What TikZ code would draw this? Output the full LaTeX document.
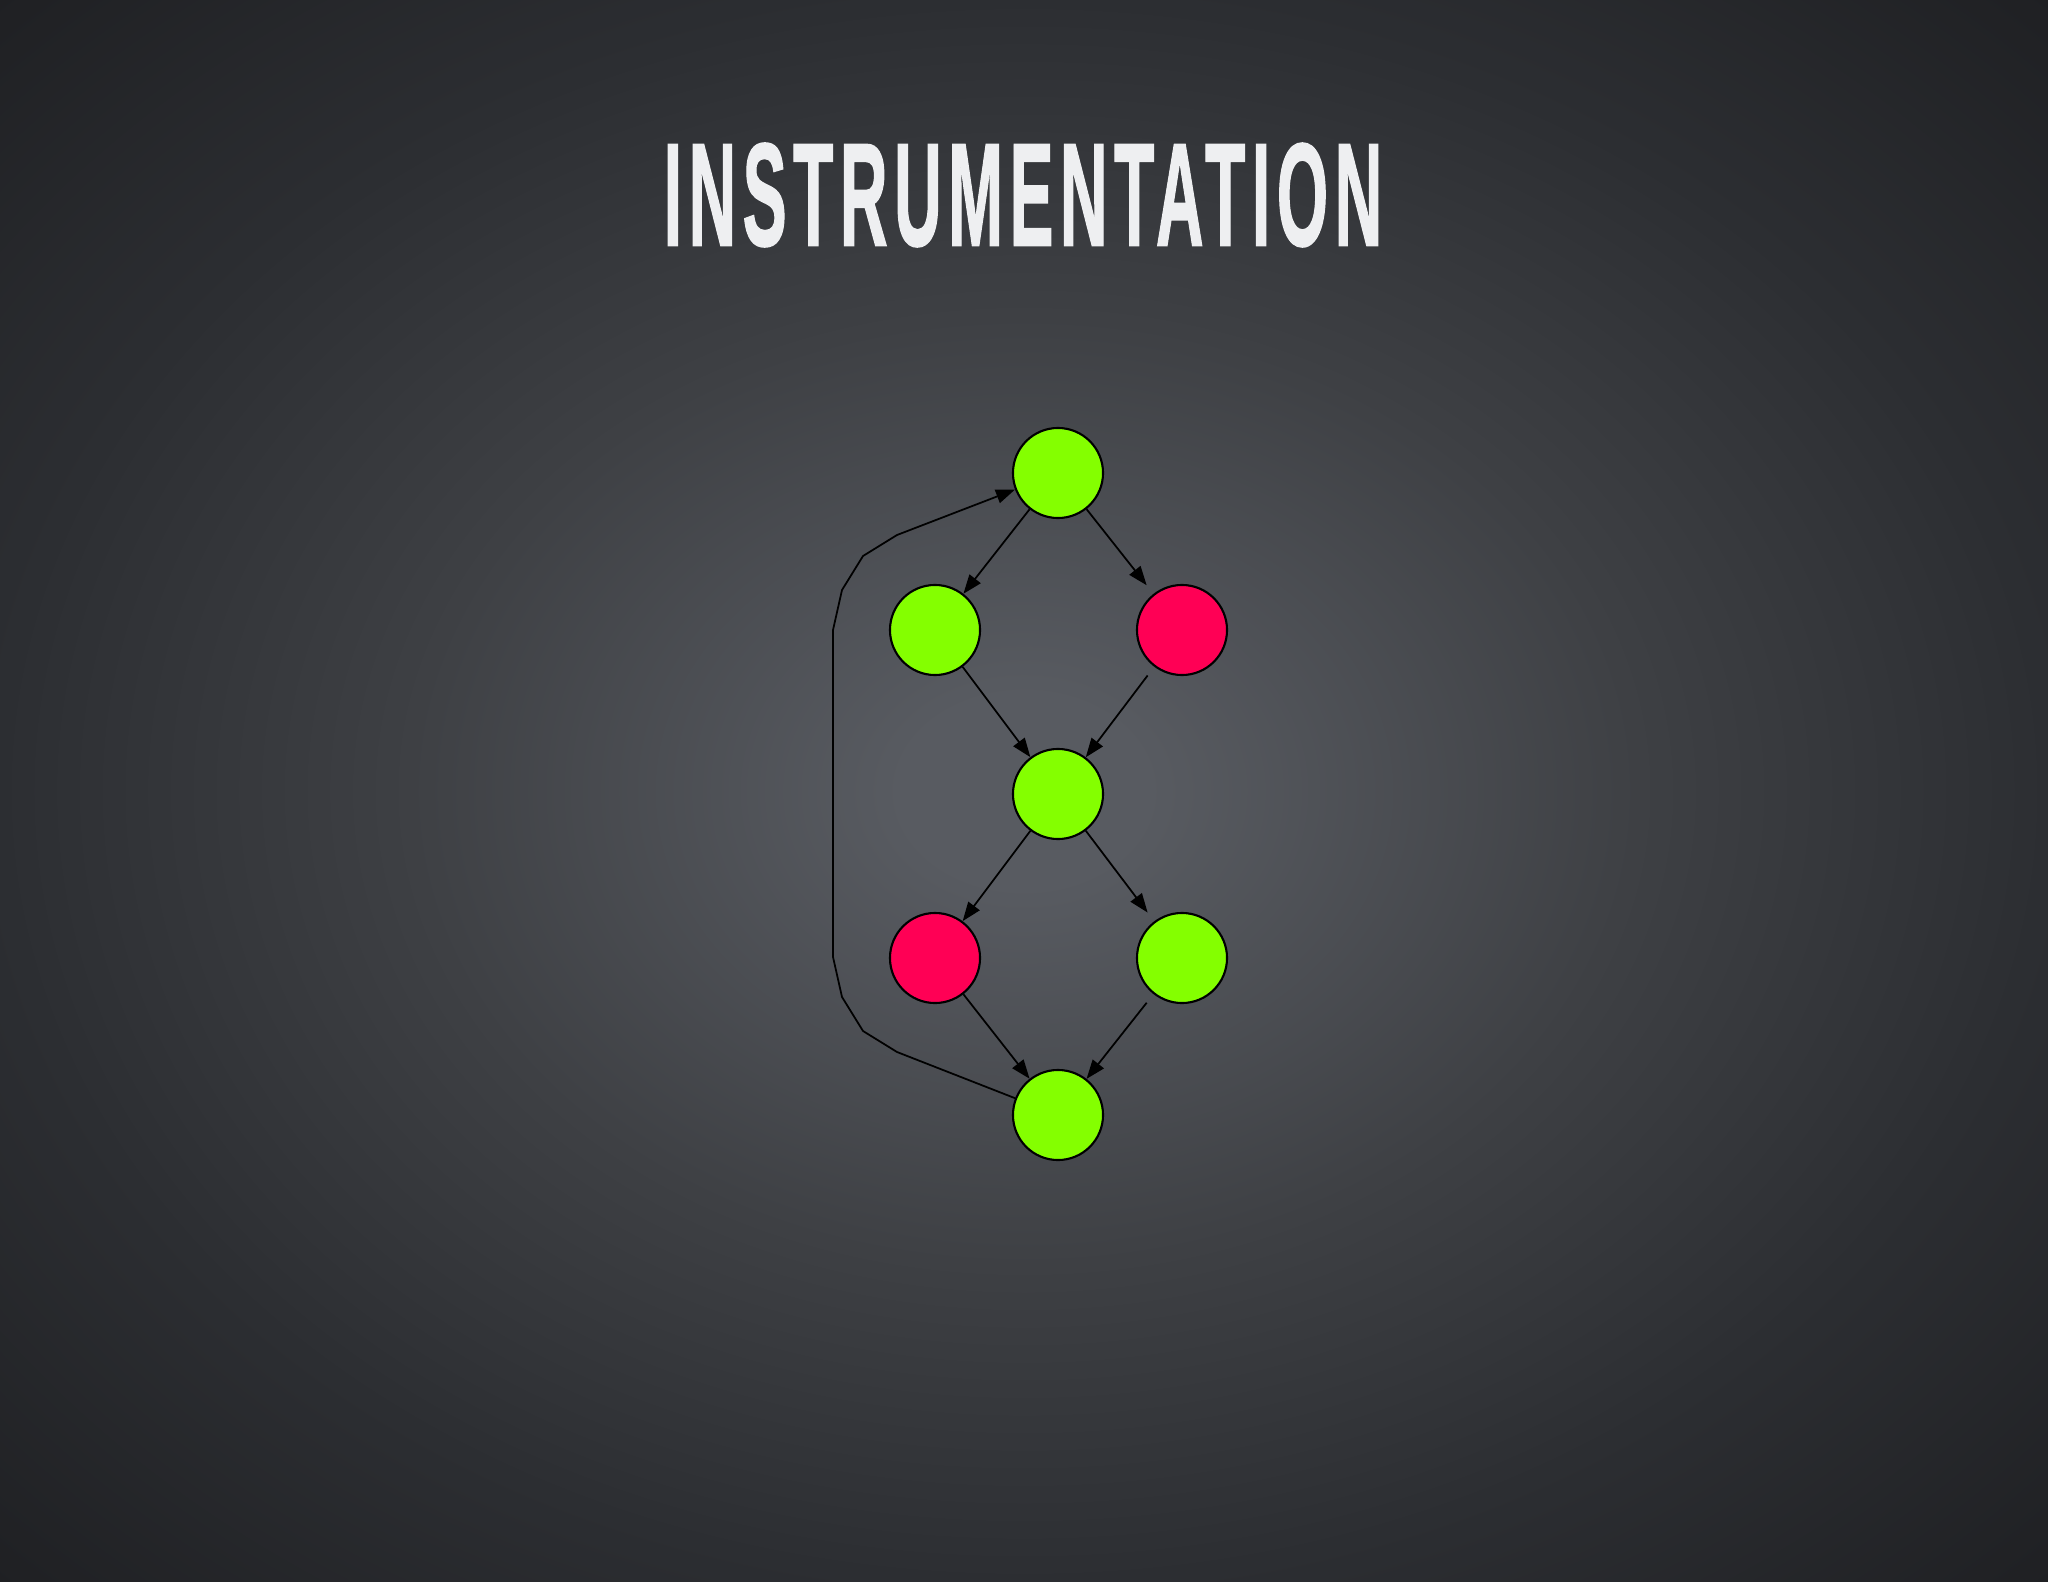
\documentclass[tikz,border=0pt]{standalone}
\usepackage{fontspec}
\usepackage{graphicx}
\usetikzlibrary{arrows.meta}
\newfontfamily\titlefont{Liberation Sans}[LetterSpace=10, BoldFeatures={FakeBold=1.5, LetterSpace=10}]
\definecolor{bgin}{RGB}{88,91,97}
\definecolor{bgq}{RGB}{62,64,68}
\definecolor{bgmid}{RGB}{44,46,50}
\definecolor{bgout}{RGB}{31,32,35}
\definecolor{nodegreen}{RGB}{132,255,0}
\definecolor{nodered}{RGB}{255,0,85}
\definecolor{titlecol}{RGB}{238,239,241}
\pgfdeclareradialshading{bgshade}{\pgfpoint{0bp}{0bp}}{color(0bp)=(bgin); color(3bp)=(bgin); color(15bp)=(bgq); color(25bp)=(bgmid); color(35.5bp)=(bgout); color(50bp)=(bgout)}
\tikzset{
  gnode/.style={circle, draw=black, line width=0.6pt, minimum size=0.9cm, inner sep=0pt, fill=nodegreen},
  rnode/.style={gnode, fill=nodered},
  gapnode/.style={outer sep=0.12cm},
  edge/.style={draw=black, line width=0.5pt, -{Triangle[length=0.19cm,width=0.14cm]}},
  loopedge/.style={edge, line join=round},
  titlestyle/.style={inner sep=0pt, text=titlecol}
}
\begin{document}
\begin{tikzpicture}[x=0.01cm, y=-0.01cm]
\useasboundingbox (0,0) rectangle (2048,1582);
\shade[shading=bgshade] (0,0) rectangle (2048,1582);
\node[titlestyle] (title) at (1023,195) {\resizebox{7.18cm}{1.02cm}{\titlefont\bfseries INSTRUMENTATION}};
\node[gnode] (top) at (1058,473) {};
\node[gnode] (l1) at (935,630) {};
\node[rnode, gapnode] (r1) at (1182,630) {};
\node[gnode] (mid) at (1058,794) {};
\node[rnode] (l2) at (935,958) {};
\node[gnode, gapnode] (r2) at (1182,958) {};
\node[gnode] (bot) at (1058,1115) {};
\coordinate (p1) at (897,1052);
\coordinate (p2) at (863,1031);
\coordinate (p3) at (842,997);
\coordinate (p4) at (833,957);
\coordinate (p5) at (833,630);
\coordinate (p6) at (842,590);
\coordinate (p7) at (863,556);
\coordinate (p8) at (897,535);
\draw[edge] (top) -- (l1);
\draw[edge] (top) -- (r1);
\draw[edge] (l1) -- (mid);
\draw[edge] (r1) -- (mid);
\draw[edge] (mid) -- (l2);
\draw[edge] (mid) -- (r2);
\draw[edge] (l2) -- (bot);
\draw[edge] (r2) -- (bot);
\draw[loopedge] (bot) -- (p1) -- (p2) -- (p3) -- (p4) -- (p5) -- (p6) -- (p7) -- (p8) -- (top);
\end{tikzpicture}
\end{document}
